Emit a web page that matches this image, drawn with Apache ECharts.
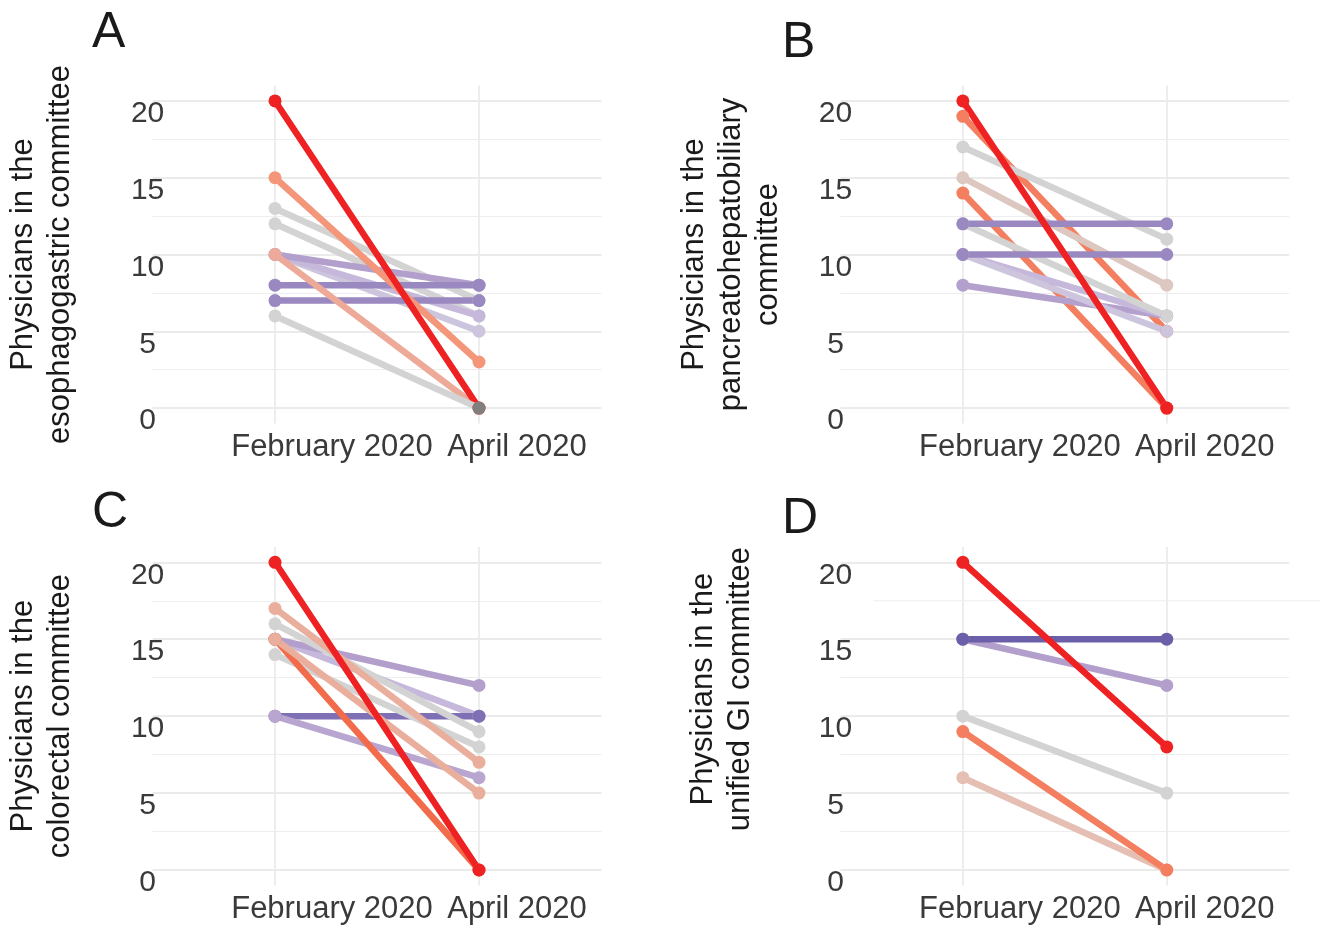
<!DOCTYPE html>
<html><head><meta charset="utf-8">
<script src="https://cdn.jsdelivr.net/npm/echarts@6/dist/echarts.min.js"></script>
<style>html,body{margin:0;padding:0;background:#fff}#c{width:1326px;height:928px}</style>
</head><body><div id="c"></div>
<script>
// ---- data ----
const months = ['February 2020', 'April 2020'];
const yTickValues = [0, 5, 10, 15, 20];
const yMinorValues = [2.5, 7.5, 12.5, 17.5];
const panelLetters = ['A', 'B', 'C', 'D'];
const yTitles = [
  'Physicians in the\nesophagogastric committee',
  'Physicians in the\npancreatohepatobiliary\ncommittee',
  'Physicians in the\ncolorectal committee',
  'Physicians in the\nunified GI committee'
];

// Panel A (esophagogastric)
const aFeb = [12, 13, 10, 10, 10, 8, 7, 15, 10, 20, 6];
const aApr = [6, 7, 5, 6, 8, 8, 7, 3, 0, 0, 0];
// Panel B (pancreatohepatobiliary)
const bFeb = [19, 14, 15, 8, 10, 10, 12, 17, 12, 10, 20];
const bApr = [5, 0, 8, 6, 6, 5, 6, 11, 12, 10, 0];
// Panel C (colorectal)
const cFeb = [15, 15, 10, 10, 14, 16, 15, 17, 15, 20];
const cApr = [10, 12, 10, 6, 8, 9, 0, 7, 5, 0];
// Panel D (unified GI)
const dFeb = [10, 6, 9, 15, 15, 20];
const dApr = [5, 0, 0, 12, 15, 8];

// ---- styles ----
const aColors = ['#d3d3d3', '#d3d3d3', '#ccc5dd', '#c5b8db', '#b39fcc', '#9a88c0', '#9a88c0', '#f4967a', '#eeaa98', '#ee2222', '#d3d3d3'];
const aEndDot = { 10: '#7f7f7f' };
const bColors = ['#f47f60', '#f47f60', '#dcc8c0', '#b3a0cc', '#c5b8db', '#ccc5dd', '#d3d3d3', '#d3d3d3', '#9a88c0', '#9a88c0', '#ee2222'];
const cColors = ['#c5b8db', '#b39fcc', '#7f6fb5', '#b8a6d0', '#d3d3d3', '#d3d3d3', '#f26b4a', '#eaae9c', '#eaae9c', '#ee2222'];
const dColors = ['#d3d3d3', '#e5bfb3', '#f47f60', '#b39fcc', '#6a5fa8', '#ee2222'];

const panels = [
  { feb: aFeb, apr: aApr, colors: aColors, endDot: aEndDot },
  { feb: bFeb, apr: bApr, colors: bColors, endDot: {} },
  { feb: cFeb, apr: cApr, colors: cColors, endDot: {} },
  { feb: dFeb, apr: dApr, colors: dColors, endDot: {} }
];

const gridBoxes = [
  { left: 152.6, top: 85.6, width: 448.8, height: 337.8 },
  { left: 840.5, top: 85.6, width: 448.6, height: 337.8 },
  { left: 152.6, top: 546.9, width: 448.8, height: 338.5 },
  { left: 840.5, top: 546.9, width: 448.6, height: 338.5 }
];
const letterPos = [
  { left: 92, top: 8 }, { left: 782, top: 18 },
  { left: 92, top: 488 }, { left: 782, top: 494 }
];
const titleGaps = [74, 54, 74, 82];
const titleShift = [0, 0, 0, -54]; // right padding(+)/left padding(-) in rotated frame

const FONT = 'Liberation Sans, Arial, sans-serif';
const gridColor = '#ebebeb';

const chart = echarts.init(document.getElementById('c'), null, { renderer: 'canvas' });

const grid = [], xAxis = [], yAxis = [], series = [], title = [];
panels.forEach((p, i) => {
  grid.push(Object.assign({ containLabel: false, outerBoundsMode: 'none' }, gridBoxes[i]));
  title.push({
    text: panelLetters[i], left: letterPos[i].left, top: letterPos[i].top, padding: 0,
    textStyle: { fontSize: 50, fontWeight: 'normal', color: '#1a1a1a', fontFamily: FONT }
  });
  xAxis.push({
    type: 'value', gridIndex: i, min: -0.6, max: 1.6,
    axisLine: { show: false },
    axisTick: { show: false, customValues: [0, 1] },
    splitLine: { show: true, lineStyle: { color: gridColor, width: 1.8 } },
    axisLabel: {
      customValues: [0, 1], margin: 9, showMinLabel: true, showMaxLabel: true,
      formatter: v => '{l' + v + '|' + months[v] + '}',
      rich: {
        l0: { fontSize: 31, fontFamily: FONT, color: '#3a3a3a', padding: [0, 0, 0, 114] },
        l1: { fontSize: 31, fontFamily: FONT, color: '#3a3a3a', padding: [0, 0, 0, 76] }
      }
    }
  });
  const sh = titleShift[i];
  yAxis.push({
    type: 'value', gridIndex: i, min: -1, max: 21,
    name: yTitles[i], nameLocation: 'middle', nameGap: titleGaps[i], nameMoveOverlap: false,
    nameTextStyle: {
      fontSize: 31, lineHeight: 37, color: '#1a1a1a', fontFamily: FONT,
      padding: sh >= 0 ? [0, sh, 0, 0] : [0, 0, 0, -sh]
    },
    axisLine: { show: false },
    axisTick: { show: false, customValues: yTickValues },
    splitLine: { show: true, lineStyle: { color: gridColor, width: 1.8 } },
    axisLabel: {
      customValues: yTickValues, align: 'center', margin: 5,
      fontSize: 30, fontFamily: FONT, color: '#3a3a3a',
      verticalAlign: 'top', lineHeight: 26
    }
  });
  yAxis.push({
    type: 'value', gridIndex: i, min: -1, max: 21,
    axisLine: { show: false },
    axisTick: { show: false, customValues: i === 3 ? yMinorValues.slice(0, 3) : yMinorValues },
    axisLabel: { show: false, customValues: yMinorValues },
    splitLine: { show: true, lineStyle: { color: '#eeeeee', width: 1.2 } }
  });
  p.feb.forEach((fv, k) => {
    const c = p.colors[k];
    const endColor = p.endDot[k] || c;
    series.push({
      type: 'line', xAxisIndex: i, yAxisIndex: 2 * i,
      data: [[0, fv], { value: [1, p.apr[k]], itemStyle: { color: endColor } }],
      symbol: 'circle', symbolSize: 13, showSymbol: true,
      lineStyle: { color: c, width: 6.5, cap: 'round' },
      itemStyle: { color: c },
      emphasis: { disabled: true }, silent: true, animation: false, z: 2
    });
  });
});

chart.setOption({
  backgroundColor: '#ffffff',
  animation: false,
  title, grid, xAxis, yAxis, series
});

// faint displaced 17.5 gridline seen in panel D of the reference
const y175 = chart.convertToPixel({ yAxisIndex: 7 }, 17.5);
const gD = gridBoxes[3];
chart.setOption({
  graphic: [{
    type: 'line', silent: true, z: 0,
    shape: { x1: gD.left + 33, y1: y175, x2: gD.left + gD.width + 31, y2: y175 },
    style: { stroke: '#eeeeee', lineWidth: 1.2 }
  }]
});
</script>
</body></html>
